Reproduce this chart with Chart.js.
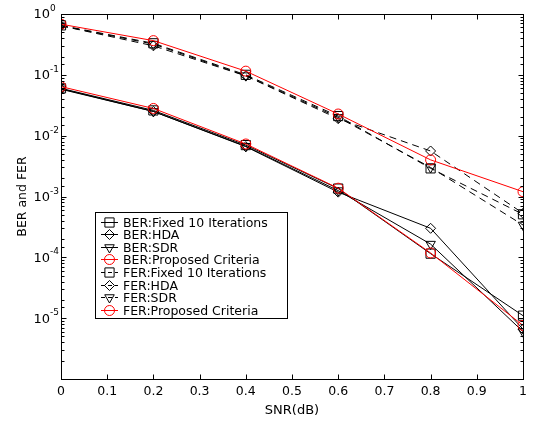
<!DOCTYPE html>
<html>
<head>
<meta charset="utf-8">
<script src="https://cdn.jsdelivr.net/npm/chart.js@4.4.1/dist/chart.umd.min.js"></script>
<style>
  html, body { margin: 0; padding: 0; background: #fff; }
  #wrap { width: 533px; height: 421px; }
</style>
</head>
<body>
<div id="wrap"><canvas id="berChart" width="533" height="421"></canvas></div>
<script>
// SNR points on the x axis
const snr = [0, 0.2, 0.4, 0.6, 0.8, 1.0];

// lower curves (solid)
const berFixed = [0.060, 0.026, 0.0070, 0.00135, 0.000115, 0.0000110];
const berHda = [0.058, 0.025, 0.0066, 0.00118, 0.00030, 0.0000066];
const berSdr = [0.059, 0.025, 0.0067, 0.00125, 0.000165, 0.0000060];
const berProposed = [0.064, 0.028, 0.0073, 0.00137, 0.000118, 0.0000076];

// upper curves (dashed black, solid red)
const ferFixed = [0.65, 0.33, 0.100, 0.021, 0.0029, 0.00051];
const ferHda = [0.64, 0.30, 0.096, 0.019, 0.0056, 0.00053];
const ferSdr = [0.64, 0.32, 0.097, 0.020, 0.0030, 0.00034];
const ferProposed = [0.68, 0.365, 0.115, 0.0227, 0.0040, 0.0012];

const xTickLabels = ["0", "0.1", "0.2", "0.3", "0.4", "0.5", "0.6", "0.7", "0.8", "0.9", "1"];
const yTickExponents = ["0", "-1", "-2", "-3", "-4", "-5"];

const FONT = "'DejaVu Sans', 'Liberation Sans', Arial, sans-serif";

function makeSeries(label, values, style) {
    return {
        label: label,
        data: snr.map((s, i) => ({ x: s, y: values[i] })),
        borderColor: style.color,
        borderWidth: 1,
        borderDash: style.dash || [],
        pointStyle: style.marker,
        pointRotation: style.rotation || 0,
        pointRadius: style.radius,
        pointHoverRadius: style.radius,
        pointBorderColor: style.color,
        pointBackgroundColor: "rgba(0,0,0,0)",
        pointBorderWidth: 1,
        tension: 0,
        fill: false,
        order: style.color === "#ff0000" ? 0 : 1
    };
}

const datasets = [
    makeSeries("BER:Fixed 10 Iterations", berFixed, { color: "#000", marker: "rect", radius: 6.5 }),
    makeSeries("BER:HDA", berHda, { color: "#000", marker: "rectRot", radius: 5 }),
    makeSeries("BER:SDR", berSdr, { color: "#000", marker: "triangle", rotation: 180, radius: 5.5 }),
    makeSeries("BER:Proposed Criteria", berProposed, { color: "#ff0000", marker: "circle", radius: 5 }),
    makeSeries("FER:Fixed 10 Iterations", ferFixed, { color: "#000", marker: "rect", radius: 6.5, dash: [7, 5] }),
    makeSeries("FER:HDA", ferHda, { color: "#000", marker: "rectRot", radius: 5, dash: [7, 5] }),
    makeSeries("FER:SDR", ferSdr, { color: "#000", marker: "triangle", rotation: 180, radius: 5.5, dash: [7, 5] }),
    makeSeries("FER:Proposed Criteria", ferProposed, { color: "#ff0000", marker: "circle", radius: 5 })
];

function drawMarker(ctx, ds, x, y) {
    const r = ds.pointRadius;
    ctx.beginPath();
    if (ds.pointStyle === "rect") {
        const h = r * Math.SQRT1_2;
        ctx.rect(x - h, y - h, 2 * h, 2 * h);
    } else if (ds.pointStyle === "rectRot") {
        ctx.moveTo(x, y - r); ctx.lineTo(x + r, y); ctx.lineTo(x, y + r); ctx.lineTo(x - r, y); ctx.closePath();
    } else if (ds.pointStyle === "triangle") {
        const s = Math.sin(Math.PI / 3) * r;
        ctx.moveTo(x, y + r); ctx.lineTo(x + s, y - r / 2); ctx.lineTo(x - s, y - r / 2); ctx.closePath();
    } else {
        ctx.arc(x, y, r, 0, Math.PI * 2);
    }
    ctx.stroke();
}

const axisBoxPlugin = {
    id: "axisBox",
    beforeDraw(chart) {
        const ctx = chart.ctx;
        ctx.save();
        ctx.fillStyle = "#fff";
        ctx.fillRect(0, 0, chart.width, chart.height);
        ctx.restore();
    },
    afterDraw(chart) {
        const { ctx, chartArea: a, scales: { x, y } } = chart;
        const L = Math.round(a.left) + 0.5, R = Math.round(a.right) + 0.5;
        const T = Math.round(a.top) + 0.5, B = Math.round(a.bottom) + 0.5;
        ctx.save();
        ctx.strokeStyle = "#000";
        ctx.lineWidth = 1;
        ctx.strokeRect(L, T, R - L, B - T);

        // inward ticks like matlab
        ctx.beginPath();
        x.ticks.forEach(t => {
            const px = Math.round(x.getPixelForValue(t.value)) + 0.5;
            ctx.moveTo(px, B); ctx.lineTo(px, B - 5);
            ctx.moveTo(px, T); ctx.lineTo(px, T + 5);
        });
        y.ticks.forEach(t => {
            const py = Math.round(y.getPixelForValue(t.value)) + 0.5;
            const e = Math.log10(t.value);
            const len = Math.abs(e - Math.round(e)) < 1e-6 ? 5 : 3;
            ctx.moveTo(L, py); ctx.lineTo(L + len, py);
            ctx.moveTo(R, py); ctx.lineTo(R - len, py);
        });
        ctx.stroke();

        // y tick labels 10^n
        ctx.fillStyle = "#000";
        yTickExponents.forEach(e => {
            const py = y.getPixelForValue(Math.pow(10, Number(e)));
            ctx.font = "13px " + FONT;
            ctx.textAlign = "right";
            ctx.textBaseline = "middle";
            ctx.fillText("10", 50, py + 1);
            ctx.font = "9px " + FONT;
            ctx.textAlign = "left";
            ctx.textBaseline = "alphabetic";
            ctx.fillText(e, 50, py - 3);
        });

        // legend box
        const lx = 95.5, ly = 212.5, lw = 192, lh = 106;
        ctx.fillStyle = "#fff";
        ctx.fillRect(lx, ly, lw, lh);
        ctx.strokeStyle = "#000";
        ctx.strokeRect(lx, ly, lw, lh);
        ctx.font = "12.5px " + FONT;
        ctx.textAlign = "left";
        ctx.textBaseline = "middle";
        chart.data.datasets.forEach((ds, i) => {
            const ry = Math.round(221.5 + i * 12.6) + 0.5;
            ctx.strokeStyle = ds.borderColor;
            ctx.lineWidth = 1;
            ctx.setLineDash(ds.borderDash.length ? [4, 3] : []);
            ctx.beginPath();
            ctx.moveTo(101, ry); ctx.lineTo(118, ry);
            ctx.stroke();
            ctx.setLineDash([]);
            drawMarker(ctx, ds, 109.5, ry);
            ctx.fillStyle = "#000";
            ctx.fillText(ds.label, 123, ry + 1);
        });
        ctx.restore();
    }
};

const chart = new Chart(document.getElementById("berChart").getContext("2d"), {
    type: "line",
    data: { datasets: datasets },
    options: {
        responsive: false,
        animation: false,
        devicePixelRatio: 1,
        layout: { padding: { left: 0, right: 10, top: 14, bottom: 0 } },
        plugins: {
            legend: { display: false },
            tooltip: { enabled: false }
        },
        scales: {
            x: {
                type: "linear",
                min: 0,
                max: 1,
                grid: { display: false, drawTicks: false },
                border: { display: false },
                ticks: {
                    stepSize: 0.1,
                    padding: 5,
                    color: "#000",
                    maxRotation: 0,
                    autoSkip: false,
                    font: { family: FONT, size: 12.5 },
                    callback: (v, i) => xTickLabels[i]
                },
                title: {
                    display: true,
                    text: "SNR(dB)",
                    color: "#000",
                    font: { family: FONT, size: 13 },
                    padding: { top: 0, bottom: 3 }
                },
                afterFit: s => { s.height = 42; }
            },
            y: {
                type: "logarithmic",
                min: 1e-6,
                max: 1,
                grid: { display: false, drawTicks: false },
                border: { display: false },
                ticks: { display: false },
                title: {
                    display: true,
                    text: "BER and FER",
                    color: "#000",
                    font: { family: FONT, size: 12.5 },
                    padding: { top: 15, bottom: 0 }
                },
                afterFit: s => { s.width = 61; }
            }
        }
    },
    plugins: [axisBoxPlugin]
});
</script>
</body>
</html>
